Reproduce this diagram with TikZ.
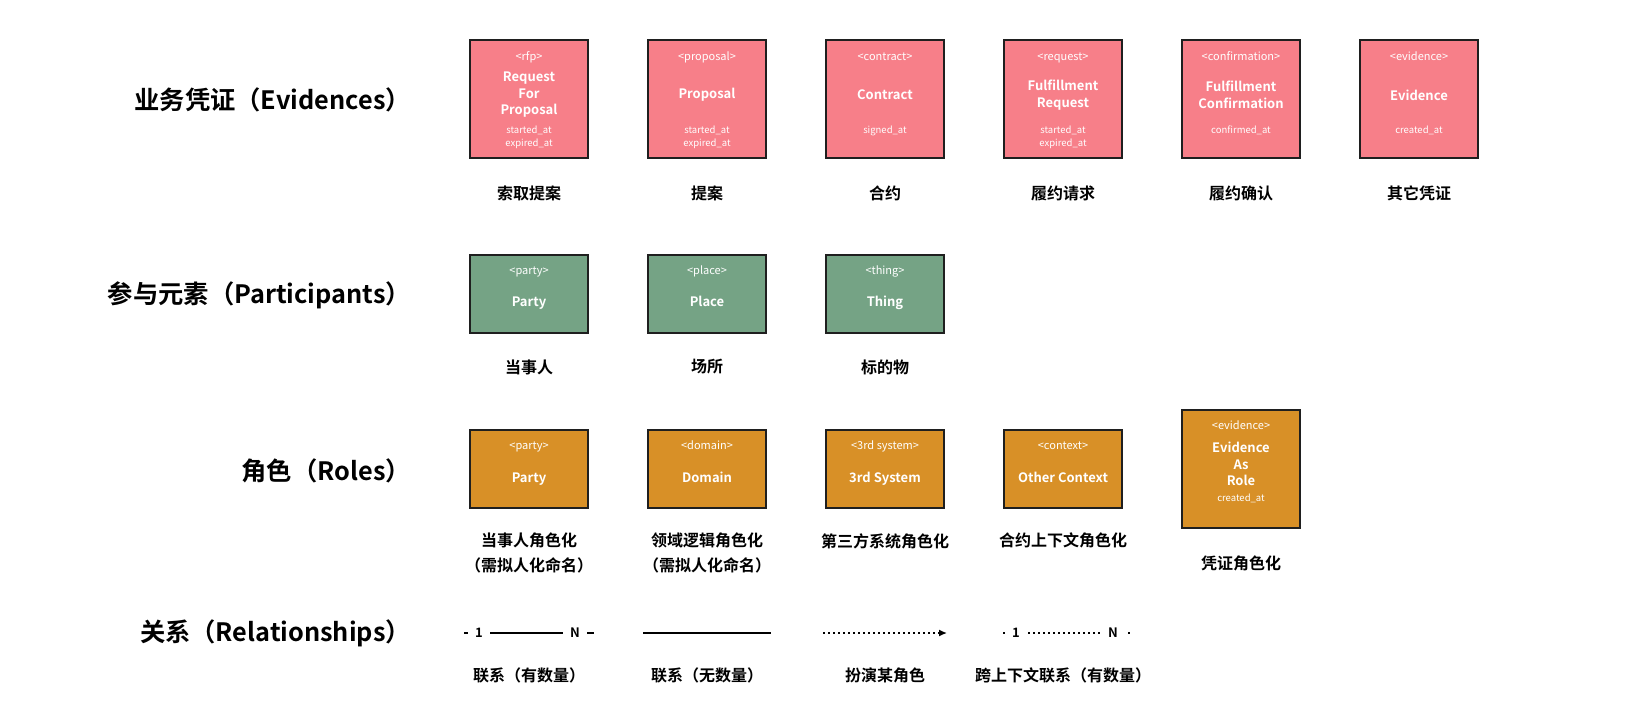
\documentclass[tikz,border=0pt]{standalone}
\usepackage{fontspec}
\setmainfont{Noto Sans CJK SC}[BoldFont={Noto Sans CJK SC Bold}]
\usetikzlibrary{positioning}
\usetikzlibrary{arrows.meta}
\definecolor{evpink}{HTML}{F77F89}
\definecolor{ppgreen}{HTML}{75A385}
\definecolor{roleorange}{HTML}{D89027}
\tikzset{box/.style={draw=black!88,line width=1.8pt,minimum width=118pt,inner sep=0pt},
evbox/.style={box,fill=evpink,minimum height=118pt},
ppbox/.style={box,fill=ppgreen,minimum height=78pt},
rolebox/.style={box,fill=roleorange,minimum height=78pt},
stereo/.style={text=white,inner sep=0pt,anchor=base,font=\fontsize{11}{12}\selectfont},
clsname/.style={text=white,inner sep=0pt,align=center,font=\bfseries\fontsize{13}{16.5}\selectfont},
attr/.style={text=white,inner sep=0pt,align=center,anchor=north,font=\fontsize{9.5}{13}\selectfont},
cnlabel/.style={inner sep=0pt,align=center,font=\bfseries\fontsize{16}{25}\selectfont},
rowtitle/.style={inner sep=0pt,anchor=east,font=\bfseries\fontsize{25.3}{29}\selectfont}}

\begin{document}
\begin{tikzpicture}[x=1pt,y=-1pt,
card/.style={fill=white,inner ysep=2pt,inner xsep=7.5pt,font=\bfseries\fontsize{13}{15}\selectfont},
rel/.style={line width=1.8pt},
xrel/.style={line width=1.5pt,dash pattern=on 1.5pt off 3.5pt}]
\useasboundingbox (0,0) rectangle (1636,724);
% row titles
\node[rowtitle] (t1) at (411,100) {业务凭证（Evidences）};
\node[rowtitle] (t2) at (411,295) {参与元素（Participants）};
\node[rowtitle] (t3) at (411,471) {角色（Roles）};
\node[rowtitle] (t4) at (411,633) {关系（Relationships）};
% evidences
\foreach \i/\x/\st/\nm/\at/\lb in {1/529/rfp/{Request\\For\\Proposal}/{started\_at\\expired\_at}/索取提案,
2/707/proposal/Proposal/{started\_at\\expired\_at}/提案,
3/885/contract/Contract/signed\_at/合约,
4/1063/request/{Fulfillment\\Request}/{started\_at\\expired\_at}/履约请求,
5/1241/confirmation/{Fulfillment\\Confirmation}/confirmed\_at/履约确认,
6/1419/evidence/Evidence/created\_at/其它凭证}{
\node[evbox] (ev\i) at (\x,99) {};
\node[stereo] (ev\i-st) at (\x,60) {<\st>};
\node[clsname] (ev\i-nm) at (\x,95) {\nm};
\node[attr] (ev\i-at) at (\x,126) {\at};
\node[cnlabel] (ev\i-lb) at (\x,193) {\lb};
}
% participants
\foreach \i/\x/\st/\nm/\lb in {1/529/party/Party/当事人,2/707/place/Place/场所,3/885/thing/Thing/标的物}{
\node[ppbox] (pp\i) at (\x,294) {};
\node[stereo] (pp\i-st) at (\x,274) {<\st>};
\node[clsname,anchor=base] (pp\i-nm) at (\x,306.5) {\nm};
\node[cnlabel] (pp\i-lb) at (\x,367) {\lb};
}
% roles
\foreach \i/\x/\st/\nm/\lb in {1/529/party/Party/{当事人角色化\\（需拟人化命名）},
2/707/domain/Domain/{领域逻辑角色化\\（需拟人化命名）},
3/885/3rd system/3rd System/第三方系统角色化,
4/1063/context/Other Context/合约上下文角色化}{
\node[rolebox] (ro\i) at (\x,469) {};
\node[stereo] (ro\i-st) at (\x,449) {<\st>};
\node[clsname,anchor=base] (ro\i-nm) at (\x,482.5) {\nm};
\node[cnlabel,anchor=north] (ro\i-lb) at (\x,533) {\lb};
}
\node[rolebox,minimum height=118pt] (ro5) at (1241,469) {};
\node[stereo] (ro5-st) at (1241,429) {<evidence>};
\node[clsname] (ro5-nm) at (1241,464) {Evidence\\As\\Role};
\node[attr] (ro5-at) at (1241,494) {created\_at};
\node[cnlabel] (ro5-lb) at (1241,563) {凭证角色化};
% relationships
\coordinate (r1s) at (464,633);
\coordinate (r1e) at (594,633);
\draw[rel] (r1s) -- node[card,pos=0.115] (r1one) {1} node[card,pos=0.854] (r1many) {N} (r1e);
\coordinate (r2s) at (643,633);
\coordinate (r2e) at (771,633);
\draw[rel,line width=1.6pt] (r2s) -- (r2e);
\coordinate (r3s) at (823,633);
\coordinate (r3e) at (947,633);
\draw[xrel,-{Latex[length=8pt,width=7pt]}] (r3s) -- (r3e);
\coordinate (r4s) at (1003,633);
\coordinate (r4e) at (1129.5,633);
\draw[xrel] (r4s) -- node[card,pos=0.103] (r4one) {1} node[card,pos=0.87] (r4many) {N} (r4e);
\node[cnlabel] (r1-lb) at (529,675) {联系（有数量）};
\node[cnlabel] (r2-lb) at (707,675) {联系（无数量）};
\node[cnlabel] (r3-lb) at (885,675) {扮演某角色};
\node[cnlabel] (r4-lb) at (1063,675) {跨上下文联系（有数量）};
\end{tikzpicture}
\end{document}
